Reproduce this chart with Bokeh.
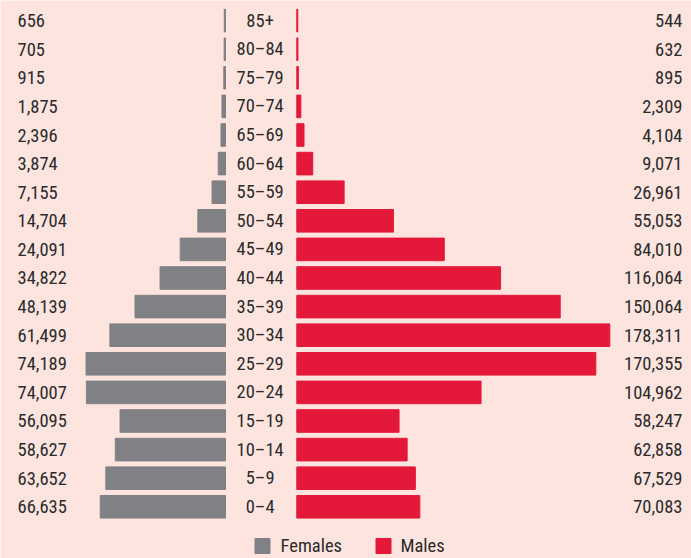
from bokeh.plotting import figure
from bokeh.models import Range1d, ColumnDataSource
from bokeh.core.properties import value
from bokeh.embed import file_html
from bokeh.resources import INLINE

# ---- data ----
age_groups = ["0–4", "5–9", "10–14", "15–19", "20–24", "25–29", "30–34", "35–39",
              "40–44", "45–49", "50–54", "55–59", "60–64", "65–69", "70–74",
              "75–79", "80–84", "85+"]
females = [66635, 63652, 58627, 56095, 74007, 74189, 61499, 48139, 34822,
           24091, 14704, 7155, 3874, 2396, 1875, 915, 705, 656]
males = [70083, 67529, 62858, 58247, 104962, 170355, 178311, 150064, 116064,
         84010, 55053, 26961, 9071, 4104, 2309, 895, 632, 544]
legend_labels = ["Females", "Males"]

BG = "#fde4df"
GRAY = "#808184"
RED = "#e4193a"
TXT = "#2b2b2b"
FONT = "'Roboto Condensed', 'Liberation Sans Narrow', 'Roboto', sans-serif"

W, H = 691, 558
rows = list(range(len(age_groups)))

p = figure(width=W, height=H, output_backend="svg", toolbar_location=None,
           x_range=Range1d(-168794, 224849), y_range=Range1d(-1.808, 17.703),
           min_border=0, background_fill_color=BG, border_fill_color=BG,
           outline_line_color=None)
p.extra_x_ranges = {"fem": Range1d(119681, -247872), "px": Range1d(0, W)}
p.extra_y_ranges = {"py": Range1d(H, 0)}
p.xaxis.visible = False
p.yaxis.visible = False
p.grid.visible = False

src = ColumnDataSource(dict(
    y=rows, f=females, m=males, lab=age_groups,
    ftxt=[f"{v:,}" for v in females], mtxt=[f"{v:,}" for v in males],
))

p.hbar(y="y", left=0, right="f", height=0.79, source=src, color=GRAY,
       x_range_name="fem")
p.hbar(y="y", left=0, right="m", height=0.79, source=src, color=RED)

common = dict(text_font=value(FONT), text_font_size="18.5px", text_color=TXT,
              text_baseline="middle", x_range_name="px", source=src)
p.text(x=17, y="y", text="ftxt", text_align="left", **common)
p.text(x=682, y="y", text="mtxt", text_align="right", **common)
p.text(x=259.6, y="y", text="lab", text_align="center", **common)

# legend
leg = ColumnDataSource(dict(x=[262, 383], tx=[280, 400], y=[545.5, 545.5],
                            c=[GRAY, RED], t=legend_labels))
p.rect(x="x", y="y", width=15, height=15, color="c", source=leg,
       x_range_name="px", y_range_name="py")
p.text(x="tx", y="y", text="t", text_align="left", text_baseline="middle",
       text_font=value(FONT), text_font_size="18.5px", text_color=TXT,
       source=leg, x_range_name="px", y_range_name="py")

html = file_html(p, INLINE)
html = html.replace("<body>", f'<body style="background-color:{BG}">', 1)
open("out.html", "w").write(html)
